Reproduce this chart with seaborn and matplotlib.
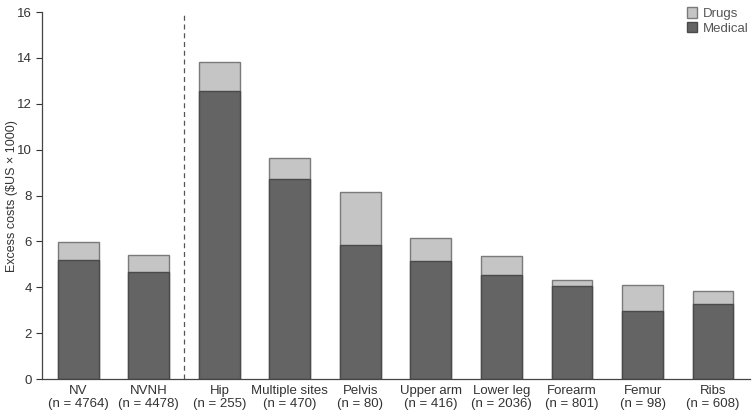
import pandas as pd
import matplotlib
matplotlib.use('Agg')
import matplotlib.pyplot as plt
import seaborn as sns
from matplotlib.patches import Patch

sites = ['NV', 'NVNH', 'Hip', 'Multiple sites', 'Pelvis', 'Upper arm',
         'Lower leg', 'Forearm', 'Femur', 'Ribs']
n_counts = [4764, 4478, 255, 470, 80, 416, 2036, 801, 98, 608]
medical = [5.19, 4.66, 12.55, 8.72, 5.84, 5.14, 4.53, 4.05, 2.96, 3.27]
drugs = [0.78, 0.74, 1.27, 0.91, 2.31, 1.01, 0.83, 0.27, 1.14, 0.57]

labels = [f'{s}\n(n = {n})' for s, n in zip(sites, n_counts)]
df = pd.DataFrame({'Site': labels, 'Medical': medical, 'Drugs': drugs})
df['Total'] = df['Medical'] + df['Drugs']

sns.set_style('white')
plt.rcParams['font.family'] = ['Liberation Sans', 'DejaVu Sans']

medical_color = '#646464'
drugs_color = '#c5c5c5'
text_color = '#333333'

fig = plt.figure(figsize=(7.55, 4.18), dpi=100)
ax = fig.add_axes([0.056, 0.093, 0.937, 0.878])

# total first (light drugs part), then medical on top
sns.barplot(x='Site', y='Total', data=df, color=drugs_color, width=0.58,
            edgecolor='#7a7a7a', linewidth=1.0, ax=ax, saturation=1)
sns.barplot(x='Site', y='Medical', data=df, color=medical_color, width=0.58,
            edgecolor='#4a4a4a', linewidth=1.0, ax=ax, saturation=1)

ax.axvline(1.5, color='#555555', linestyle=(0, (4, 3)), linewidth=0.9)

ax.set_xlim(-0.51, 9.52)
ax.set_ylim(0, 16)
ax.set_yticks(range(0, 17, 2))
ax.set_xlabel('')
ax.set_ylabel('Excess costs ($US \u00d7 1000)', fontsize=9, color=text_color,
              labelpad=-1)
ax.tick_params(axis='y', direction='out', length=4, width=0.8, colors=text_color,
               labelsize=9.5, left=True)
ax.tick_params(axis='x', length=0, labelsize=9.5, colors=text_color, pad=4)
sns.despine(ax=ax)
for sp in ['left', 'bottom']:
    ax.spines[sp].set_color('#444444')
    ax.spines[sp].set_linewidth(0.9)

handles = [Patch(facecolor=drugs_color, edgecolor='#7a7a7a', label='Drugs'),
           Patch(facecolor=medical_color, edgecolor='#4a4a4a', label='Medical')]
leg = ax.legend(handles=handles, loc='upper right', bbox_to_anchor=(1.015, 1.045),
                frameon=False, fontsize=9.5, handlelength=0.8, handleheight=0.8,
                handletextpad=0.4, labelspacing=0.15)
for t in leg.get_texts():
    t.set_color('#555555')

fig.savefig('out.png', dpi=100)
